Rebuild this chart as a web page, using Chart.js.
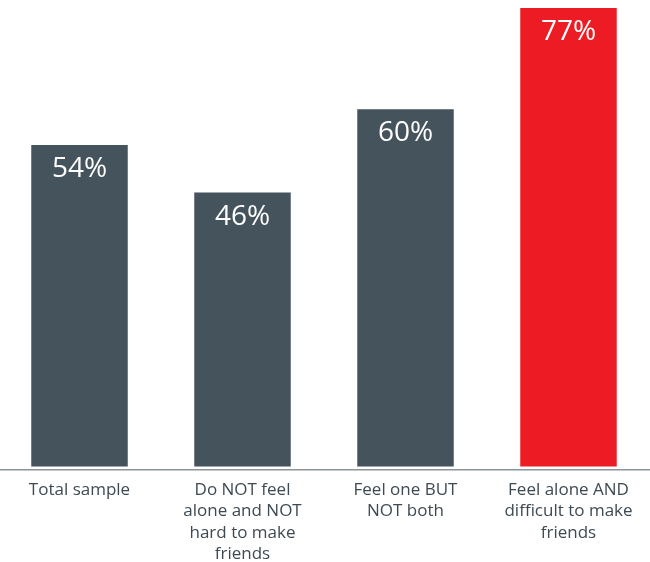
<!DOCTYPE html>
<html lang="en">
<head>
    <meta charset="UTF-8">
    <title>Feeling alone and making friends</title>
    <style>
        html, body { margin: 0; padding: 0; background: #fff; overflow: hidden; }
        .chart-container { position: relative; width: 652px; height: 562px; margin-left: -2px; }
    </style>
</head>
<body>
    <div class="chart-container">
        <canvas id="friendsChart"></canvas>
    </div>

    <script src="https://cdn.jsdelivr.net/npm/chart.js"></script>
    <script>
        const groups = [
            ['Total sample'],
            ['Do NOT feel', 'alone and NOT', 'hard to make', 'friends'],
            ['Feel one BUT', 'NOT both'],
            ['Feel alone AND', 'difficult to make', 'friends']
        ];
        const shares = [54, 46, 60, 77];
        const barColors = ['#45535d', '#45535d', '#45535d', '#ed1c24'];

        // white percentage written inside the top of each bar
        const valueLabels = {
            id: 'valueLabels',
            afterDatasetsDraw(chart) {
                const ctx = chart.ctx;
                const meta = chart.getDatasetMeta(0);
                ctx.save();
                ctx.fillStyle = '#ffffff';
                ctx.font = '28px "Open Sans", sans-serif';
                ctx.textAlign = 'center';
                ctx.textBaseline = 'middle';
                meta.data.forEach((bar, i) => {
                    ctx.fillText(shares[i] + '%', bar.x, bar.y + 24);
                });
                ctx.restore();
            }
        };

        const ctx = document.getElementById('friendsChart').getContext('2d');
        new Chart(ctx, {
            type: 'bar',
            data: {
                labels: groups,
                datasets: [{
                    data: shares,
                    backgroundColor: barColors,
                    borderWidth: 0,
                    barPercentage: 0.74,
                    categoryPercentage: 0.8
                }]
            },
            options: {
                responsive: true,
                maintainAspectRatio: false,
                animation: false,
                layout: { padding: { top: 5, left: 0, right: 0, bottom: 0 } },
                plugins: {
                    legend: { display: false },
                    tooltip: { enabled: false }
                },
                scales: {
                    y: {
                        display: false,
                        min: -0.6,
                        max: 77.5
                    },
                    x: {
                        grid: { display: false, drawTicks: false },
                        border: { display: true, color: '#8d9399', width: 1.5 },
                        afterFit(scale) { scale.height = 92; },
                        ticks: {
                            color: '#3e4a52',
                            padding: 10,
                            maxRotation: 0,
                            autoSkip: false,
                            font: { family: '"Open Sans", sans-serif', size: 17, lineHeight: 1.24 }
                        }
                    }
                }
            },
            plugins: [valueLabels]
        });
    </script>
</body>
</html>
